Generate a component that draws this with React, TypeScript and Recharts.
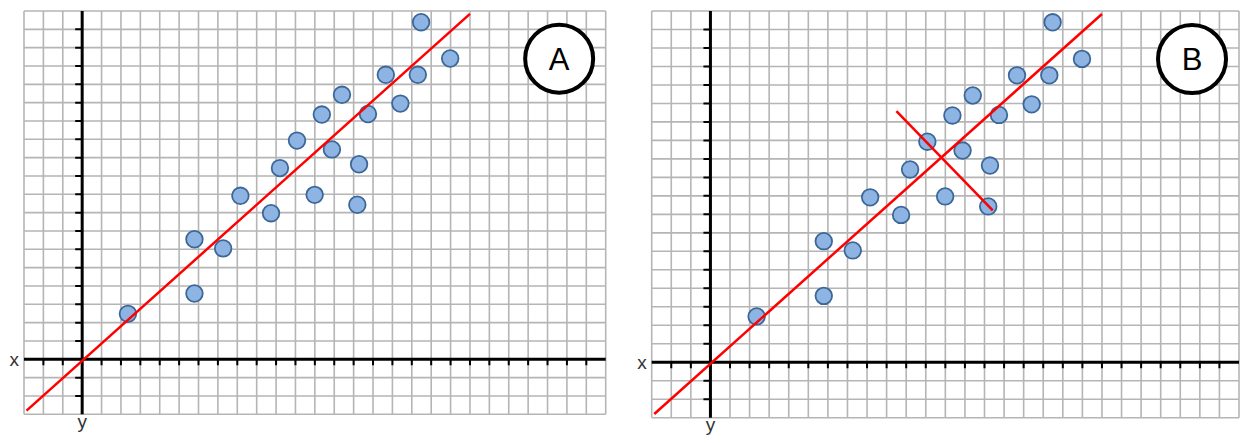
import { ScatterChart, Scatter, XAxis, YAxis, CartesianGrid, ReferenceLine, ReferenceDot } from 'recharts'

// grid lines, one per unit
const xTicks = [-3, -2, -1, 0, 1, 2, 3, 4, 5, 6, 7, 8, 9, 10, 11, 12, 13, 14, 15, 16, 17, 18, 19, 20, 21, 22, 23, 24, 25, 26, 27]
const yTicks = [-3, -2, -1, 0, 1, 2, 3, 4, 5, 6, 7, 8, 9, 10, 11, 12, 13, 14, 15, 16, 17, 18, 19]

// little tick marks drawn on the black axes
const axisMarksX = [-2, -1, 1, 2, 3, 4, 5, 6, 7, 8, 9, 10, 11, 12, 13, 14, 15, 16, 17, 18, 19, 20, 21, 22, 23, 24, 25, 26]
const axisMarksY = [-2, -1, 1, 2, 3, 4, 5, 6, 7, 8, 9, 10, 11, 12, 13, 14, 15, 16, 17, 18]

// the scatter points
const pointX = [2.36, 5.79, 5.79, 7.27, 8.16, 9.74, 10.2, 11.08, 11.99, 12.36, 12.88, 13.4, 14.19, 14.28, 14.74, 15.66, 16.41, 17.31, 17.48, 18.98]
const pointY = [2.48, 3.59, 6.55, 6.05, 8.92, 7.97, 10.43, 11.93, 8.97, 13.35, 11.45, 14.43, 8.43, 10.64, 13.38, 15.52, 13.95, 15.52, 18.39, 16.41]

// red fitted line and the perpendicular cross (panel B)
const fitX = [-2.87, 20]
const fitY = [-2.8, 18.84]
const crossX = [9.5, 14.42]
const crossY = [13.58, 8.22]

// where the panel badge sits
const badgeX = 24.6
const badgeY = 16.4

const points = pointX.map((x, i) => ({ x, y: pointY[i] }))
const fitLine = fitX.map((x, i) => ({ x, y: fitY[i] }))
const crossLine = crossX.map((x, i) => ({ x, y: crossY[i] }))
const marksX = axisMarksX.map((x) => ({ x, y: 0 }))
const marksY = axisMarksY.map((y) => ({ x: 0, y }))

const FONT = '"Liberation Sans", Arial, sans-serif'

// scale can be a plain d3 function or a wrapper with .map, depending on version
const scaleOf = (axis: any) => (v: number) => {
  const s = axis?.scale
  if (typeof s === 'function') return s(v)
  if (s && typeof s.map === 'function') return s.map(v)
  return 0
}

const Dot = (p: any) => (
  <circle cx={p.cx} cy={p.cy} r={8.3} fill="#8eb4e3" stroke="#3c6797" strokeWidth={1.8} />
)
const MarkDown = (p: any) => <line x1={p.cx} y1={p.cy} x2={p.cx} y2={p.cy + 6} stroke="#000" strokeWidth={2} />
const MarkLeft = (p: any) => <line x1={p.cx - 7} y1={p.cy} x2={p.cx} y2={p.cy} stroke="#000" strokeWidth={2} />
const Nothing = () => <g />

interface PanelProps {
  name: string
  left: number
  width: number
  margin: { top: number; left: number; right: number; bottom: number }
  cross?: boolean
}

function Panel({ name, left, width, margin, cross }: PanelProps) {
  return (
    <div style={{ position: 'absolute', left, top: 0 }}>
      <ScatterChart width={width} height={443} margin={margin}>
        <CartesianGrid
          stroke="#b5b5b5"
          strokeWidth={1.6}
          verticalCoordinatesGenerator={({ xAxis }: any) => xTicks.map(scaleOf(xAxis))}
          horizontalCoordinatesGenerator={({ yAxis }: any) => yTicks.map(scaleOf(yAxis))}
        />
        <XAxis type="number" dataKey="x" domain={[-3, 27]} hide allowDataOverflow />
        <YAxis type="number" dataKey="y" domain={[-3, 19]} hide allowDataOverflow />
        <ReferenceLine
          y={0}
          stroke="#000"
          strokeWidth={3}
          label={{ value: 'x', position: 'left', offset: 5, fontSize: 19, fill: '#333', fontFamily: FONT }}
        />
        <ReferenceLine
          x={0}
          stroke="#000"
          strokeWidth={3}
          label={{ value: 'y', position: 'bottom', offset: 0, fontSize: 19, fill: '#333', fontFamily: FONT }}
        />
        <Scatter data={marksX} shape={MarkDown} isAnimationActive={false} />
        <Scatter data={marksY} shape={MarkLeft} isAnimationActive={false} />
        <Scatter data={points} shape={Dot} isAnimationActive={false} />
        <Scatter data={fitLine} shape={Nothing} line={{ stroke: '#ff0000', strokeWidth: 2.5 }} isAnimationActive={false} />
        {cross && (
          <Scatter data={crossLine} shape={Nothing} line={{ stroke: '#ff0000', strokeWidth: 2.5 }} isAnimationActive={false} />
        )}
        <ReferenceDot
          x={badgeX}
          y={badgeY}
          r={34}
          fill="#fff"
          stroke="#000"
          strokeWidth={4}
          label={{ value: name, position: 'center', fontSize: 31, fill: '#000', fontFamily: FONT }}
        />
      </ScatterChart>
    </div>
  )
}

export default function App() {
  return (
    <div style={{ position: 'absolute', left: 0, top: 0, width: 1256, height: 443, background: '#fff' }}>
      <Panel name="A" left={0} width={625} margin={{ top: 11, left: 24, right: 19.3, bottom: 28.7 }} />
      <Panel name="B" left={625} width={631} margin={{ top: 11, left: 26.7, right: 17, bottom: 25.3 }} cross />
    </div>
  )
}
